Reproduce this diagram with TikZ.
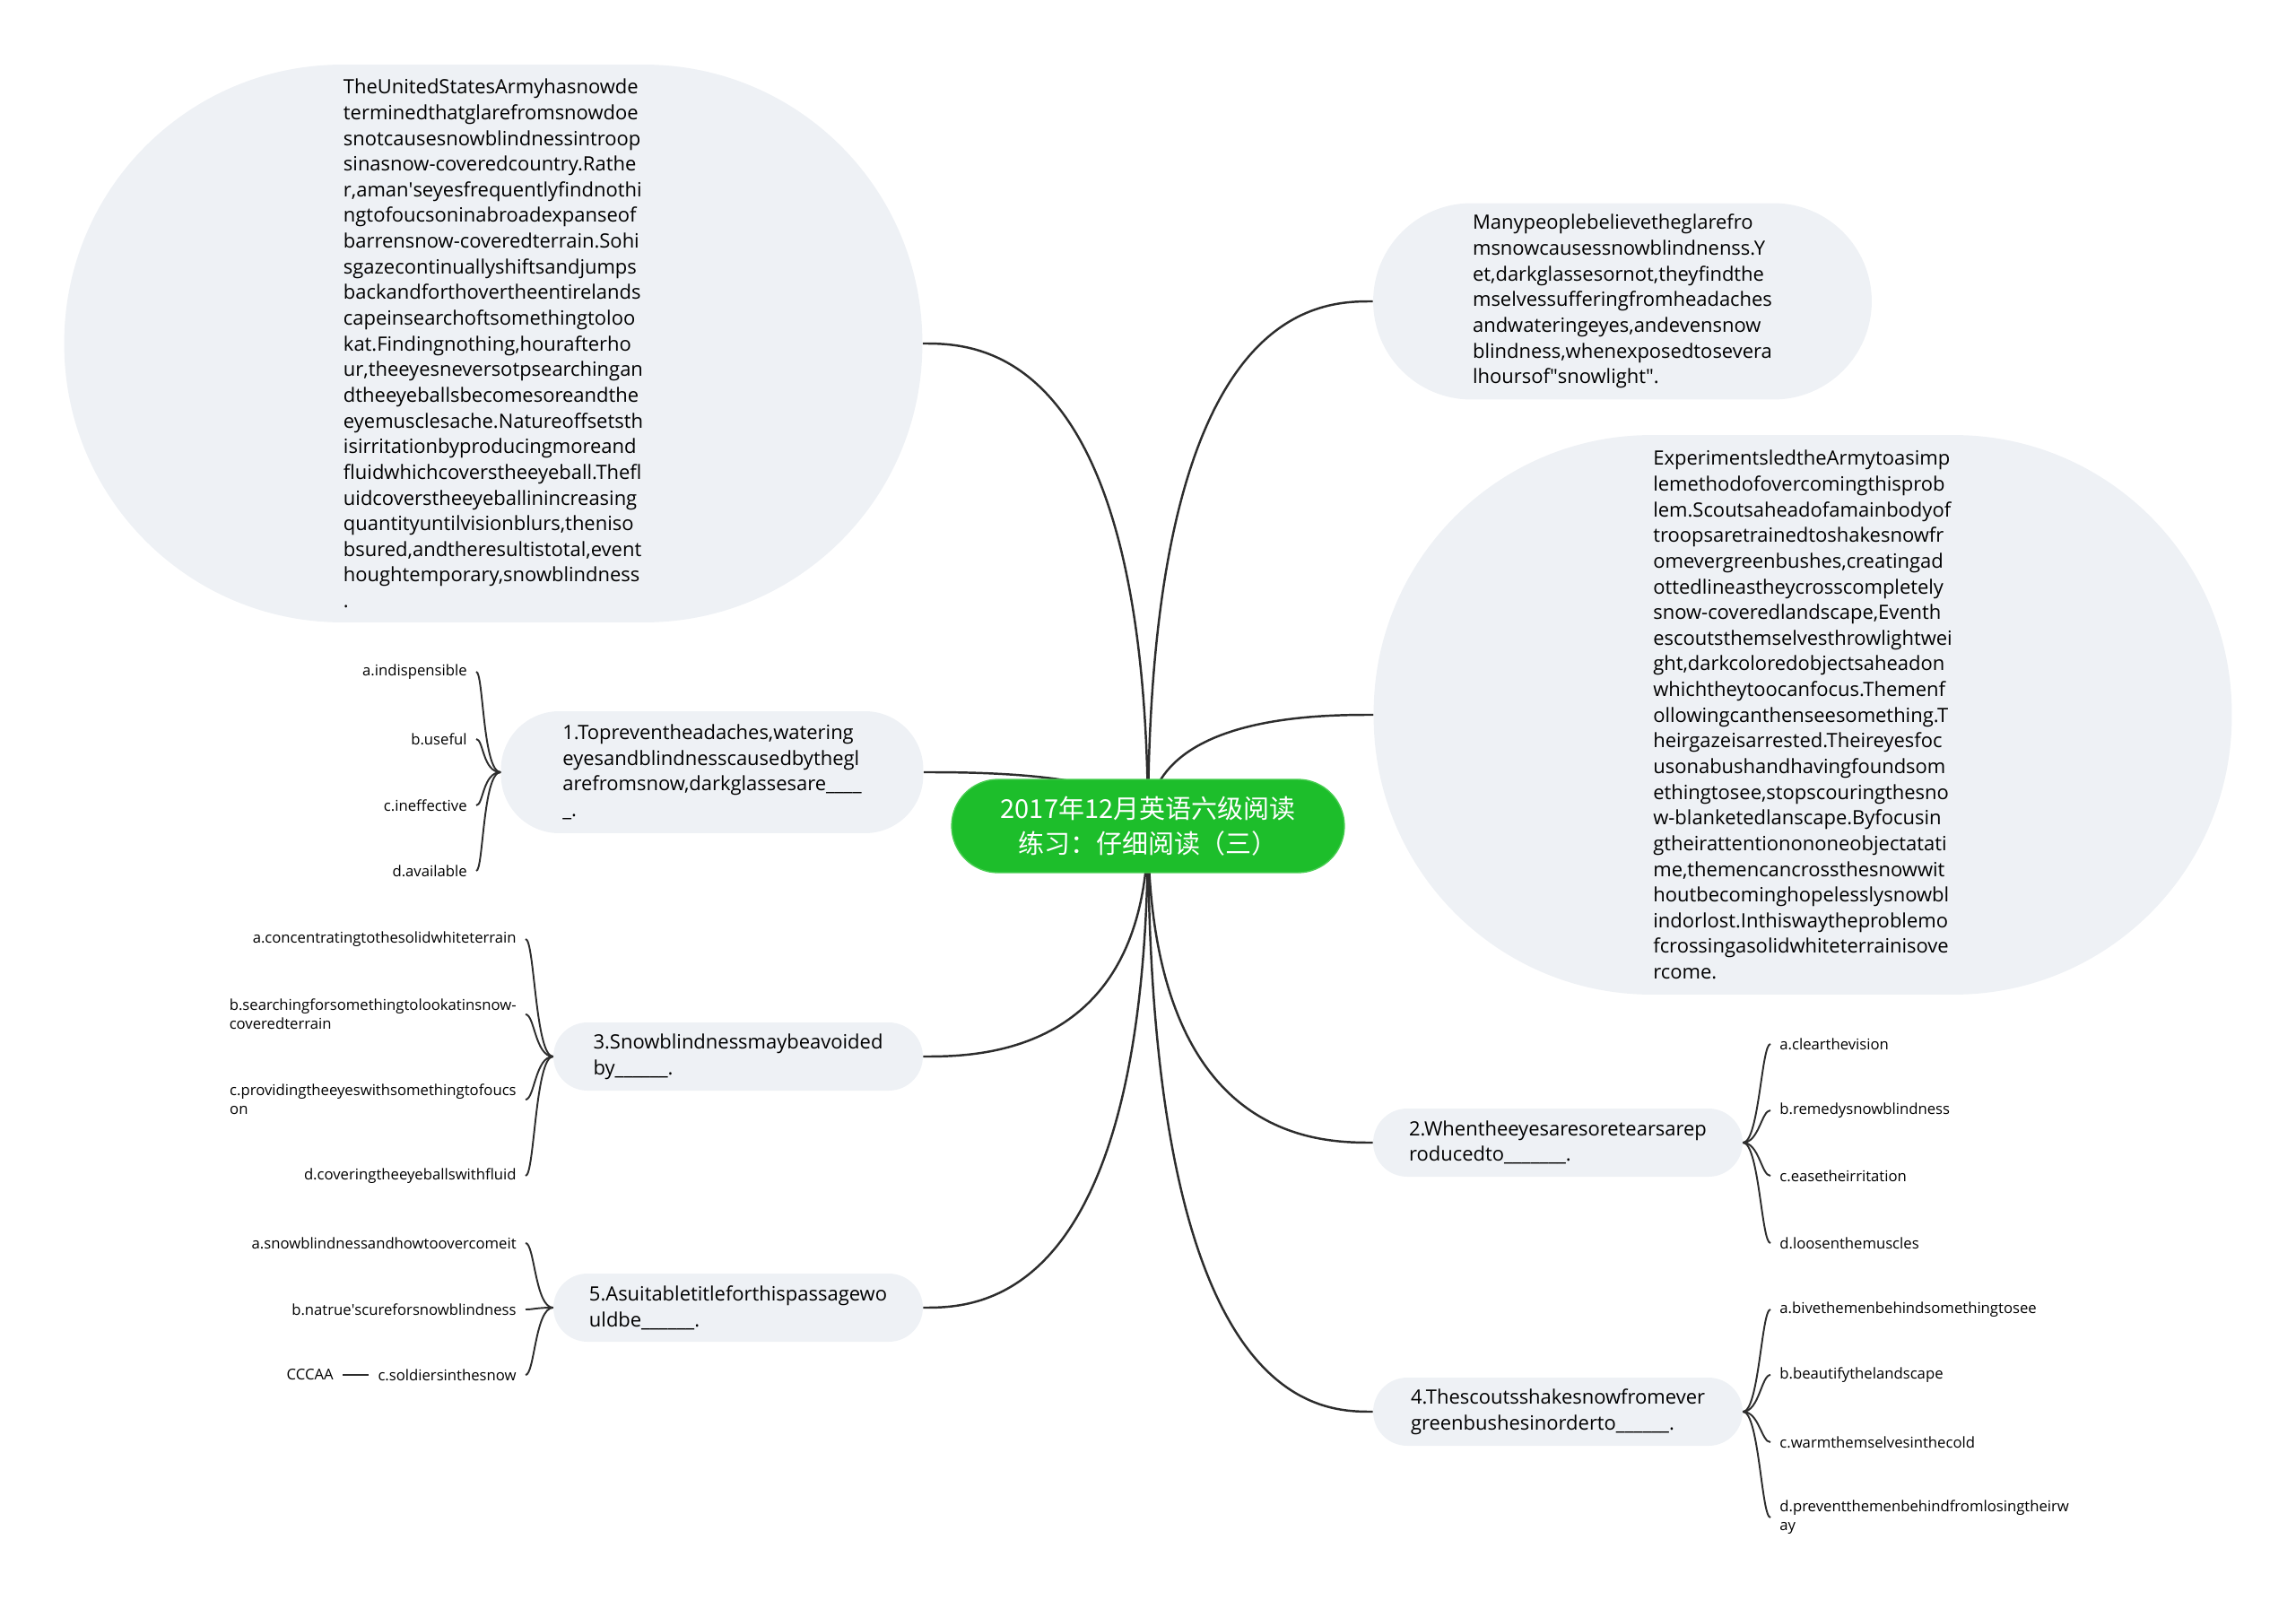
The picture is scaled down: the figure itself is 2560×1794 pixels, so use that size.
\documentclass[tikz,border=0pt]{standalone}
\usepackage{fontspec}
\setmainfont{Open Sans}
\newfontfamily\cjk{Noto Sans CJK SC}
\usepackage{tikz}
\usetikzlibrary{backgrounds}
\definecolor{bubblegrey}{RGB}{238,241,245}
\definecolor{rootgreen}{RGB}{29,190,43}
\definecolor{rootedge}{RGB}{70,205,80}
\definecolor{linkgrey}{RGB}{45,45,45}

\tikzset{
  bubble/.style={fill=bubblegrey, align=left, inner sep=0pt, font=\fontsize{12.5}{16.3}\selectfont},
  choice/.style={align=left, inner xsep=0.2cm, inner ysep=0pt, font=\fontsize{9.5}{12}\selectfont},
  branch/.style={draw=linkgrey, line width=1.4pt},
  twig/.style={draw=linkgrey, line width=1.1pt},
}

\begin{document}
\begin{tikzpicture}[x=0.02cm, y=-0.02cm]
    \useasboundingbox (0,0) rectangle (2560,1794);

    % centre
    \node[fill=rootgreen, draw=rootedge, line width=0.8pt, rounded corners=1.04cm, minimum width=8.76cm, minimum height=2.08cm,
      text=white, align=center, font=\cjk\fontsize{16.5}{22.3}\selectfont] (root) at (1280,921) {2017年12月英语六级阅读\\练习：仔细阅读（三）};

    % passages
    \node[bubble, rounded corners=6.2cm, minimum width=19.14cm, minimum height=12.44cm] (passa) at (550,383) {TheUnitedStatesArmyhasnowde\\terminedthatglarefromsnowdoe\\snotcausesnowblindnessintroop\\sinasnow-coveredcountry.Rathe\\r,aman\textquotesingle seyesfrequentlyfindnothi\\ngtofoucsoninabroadexpanseof\\barrensnow-coveredterrain.Sohi\\sgazecontinuallyshiftsandjumps\\backandforthovertheentirelands\\capeinsearchoftsomethingtoloo\\kat.Findingnothing,hourafterho\\ur,theeyesneversotpsearchingan\\dtheeyeballsbecomesoreandthe\\eyemusclesache.Natureoffsetsth\\isirritationbyproducingmoreand\\fluidwhichcoverstheeyeball.Thefl\\uidcoverstheeyeballinincreasing\\quantityuntilvisionblurs,theniso\\bsured,andtheresultistotal,event\\houghtemporary,snowblindness\\.};
    \node[bubble, rounded corners=2.19cm, minimum width=11.12cm, minimum height=4.38cm] (passb) at (1809,336) {Manypeoplebelievetheglarefro\\msnowcausessnowblindnenss.Y\\et,darkglassesornot,theyfindthe\\mselvessufferingfromheadaches\\andwateringeyes,andevensnow\\blindness,whenexposedtosevera\\lhoursof\textquotedbl snowlight\textquotedbl.};
    \node[bubble, rounded corners=6.2cm, minimum width=19.14cm, minimum height=12.48cm] (passc) at (2010,797) {ExperimentsledtheArmytoasimp\\lemethodofovercomingthisprob\\lem.Scoutsaheadofamainbodyof\\troopsaretrainedtoshakesnowfr\\omevergreenbushes,creatingad\\ottedlineastheycrosscompletely\\snow-coveredlandscape,Eventh\\escoutsthemselvesthrowlightwei\\ght,darkcoloredobjectsaheadon\\whichtheytoocanfocus.Themenf\\ollowingcanthenseesomething.T\\heirgazeisarrested.Theireyesfoc\\usonabushandhavingfoundsom\\ethingtosee,stopscouringthesno\\w-blanketedlanscape.Byfocusin\\gtheirattentionononeobjectatati\\me,themencancrossthesnowwit\\houtbecominghopelesslysnowbl\\indorlost.Inthiswaytheproblemo\\fcrossingasolidwhiteterrainisove\\rcome.};

    % questions
    \node[bubble, rounded corners=1.3cm, minimum width=9.42cm, minimum height=2.72cm] (qone) at (794,861) {1.Topreventheadaches,watering\\eyesandblindnesscausedbythegl\\arefromsnow,darkglassesare\_\_\_\_\\\_.};
    \node[bubble, rounded corners=0.76cm, minimum width=8.24cm, minimum height=1.52cm] (qthree) at (823,1178) {3.Snowblindnessmaybeavoided\\by\_\_\_\_\_\_.};
    \node[bubble, rounded corners=0.76cm, minimum width=8.24cm, minimum height=1.52cm] (qfive) at (823,1458) {5.Asuitabletitleforthispassagewo\\uldbe\_\_\_\_\_\_.};
    \node[bubble, rounded corners=0.76cm, minimum width=8.24cm, minimum height=1.52cm] (qtwo) at (1737,1274) {2.Whentheeyesaresoretearsarep\\roducedto\_\_\_\_\_\_\_.};
    \node[bubble, rounded corners=0.76cm, minimum width=8.24cm, minimum height=1.52cm] (qfour) at (1737,1574) {4.Thescoutsshakesnowfromever\\greenbushesinorderto\_\_\_\_\_\_.};

    % choices, left side
    \node[choice, anchor=east] (qonea) at (531,749) {a.indispensible};
    \node[choice, anchor=east] (qoneb) at (531,824) {b.useful};
    \node[choice, anchor=east] (qonec) at (531,898) {c.ineffective};
    \node[choice, anchor=east] (qoned) at (531,971) {d.available};

    \node[choice, anchor=east] (qthreea) at (586,1047) {a.concentratingtothesolidwhiteterrain};
    \node[choice, anchor=east] (qthreeb) at (586,1131) {b.searchingforsomethingtolookatinsnow-\\coveredterrain};
    \node[choice, anchor=east] (qthreec) at (586,1226) {c.providingtheeyeswithsomethingtofoucs\\on};
    \node[choice, anchor=east] (qthreed) at (586,1311) {d.coveringtheeyeballswithfluid};

    \node[choice, anchor=east] (qfivea) at (586,1386) {a.snowblindnessandhowtoovercomeit};
    \node[choice, anchor=east] (qfiveb) at (586,1460) {b.natrue\textquotesingle scureforsnowblindness};
    \node[choice, anchor=east] (qfivec) at (586,1533) {c.soldiersinthesnow};
    \node[choice, anchor=east] (answer) at (382,1533) {CCCAA};

    % choices, right side
    \node[choice, anchor=west] (qtwoa) at (1974,1164) {a.clearthevision};
    \node[choice, anchor=west] (qtwob) at (1974,1238) {b.remedysnowblindness};
    \node[choice, anchor=west] (qtwoc) at (1974,1311) {c.easetheirritation};
    \node[choice, anchor=west] (qtwod) at (1974,1386) {d.loosenthemuscles};

    \node[choice, anchor=west] (qfoura) at (1974,1460) {a.bivethemenbehindsomethingtosee};
    \node[choice, anchor=west] (qfourb) at (1974,1533) {b.beautifythelandscape};
    \node[choice, anchor=west] (qfourc) at (1974,1608) {c.warmthemselvesinthecold};
    \node[choice, anchor=west] (qfourd) at (1974,1692) {d.preventthemenbehindfromlosingtheirw\\ay};

    \begin{scope}[on background layer]
      \foreach \n in {passa, qone, qthree, qfive}
        \draw[branch] (root.center) .. controls (root.center |- \n.east) and +(60,0) .. (\n.east);
      \foreach \n in {passb, passc, qtwo, qfour}
        \draw[branch] (root.center) .. controls (root.center |- \n.west) and +(-60,0) .. (\n.west);
    \end{scope}

    \foreach \o in {qonea, qoneb, qonec, qoned}
      \draw[twig] (qone.west) .. controls +(-20,0) and +(8,0) .. (\o.east);
    \foreach \o in {qthreea, qthreeb, qthreec, qthreed}
      \draw[twig] (qthree.west) .. controls +(-20,0) and +(10,0) .. (\o.east);
    \foreach \o in {qfivea, qfiveb, qfivec}
      \draw[twig] (qfive.west) .. controls +(-20,0) and +(10,0) .. (\o.east);
    \foreach \o in {qtwoa, qtwob, qtwoc, qtwod}
      \draw[twig] (qtwo.east) .. controls +(18,0) and +(-10,0) .. (\o.west);
    \foreach \o in {qfoura, qfourb, qfourc, qfourd}
      \draw[twig] (qfour.east) .. controls +(18,0) and +(-10,0) .. (\o.west);
    \draw[twig] (qfivec.west) -- (answer.east);
\end{tikzpicture}
\end{document}
